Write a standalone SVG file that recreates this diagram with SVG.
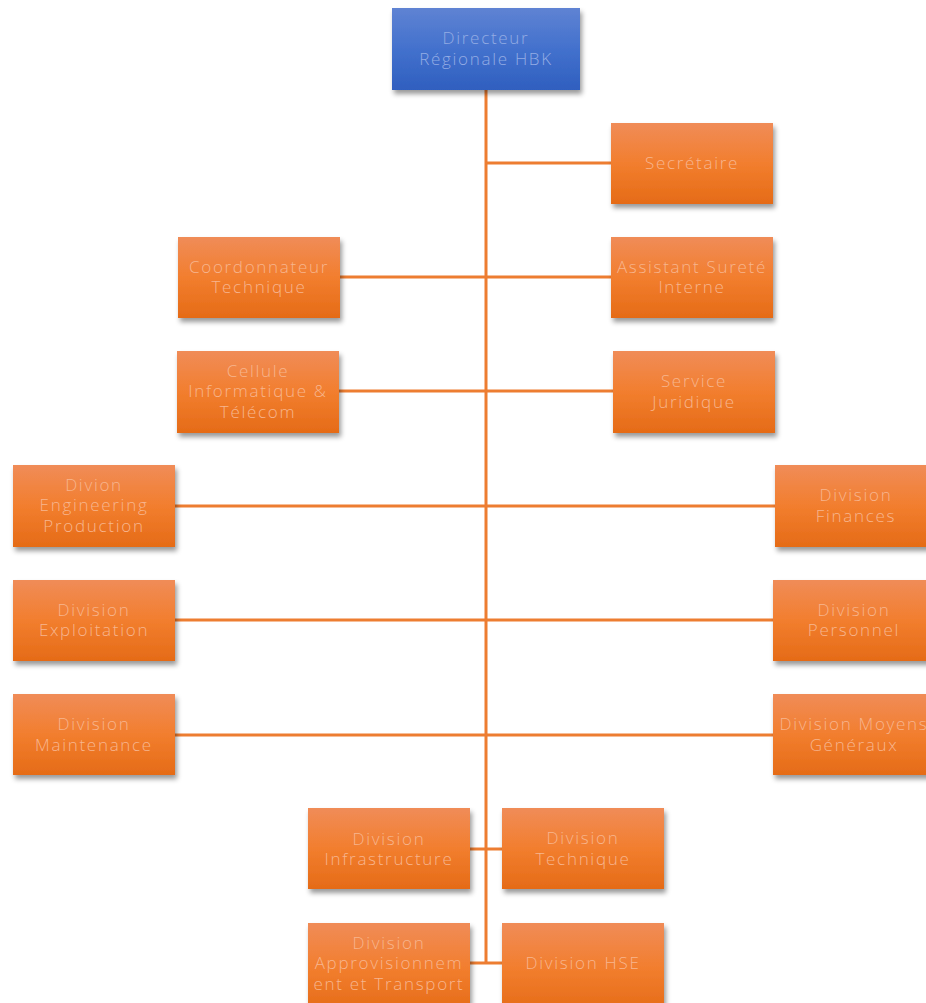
<svg xmlns="http://www.w3.org/2000/svg" width="926" height="1003" viewBox="0 0 926 1003">
<defs>
<linearGradient id="og" x1="0" y1="0" x2="0" y2="1">
<stop offset="0" stop-color="#F08C58"/><stop offset="0.5" stop-color="#F27E2E"/><stop offset="1" stop-color="#E56B17"/>
</linearGradient>
<linearGradient id="bg" x1="0" y1="0" x2="0" y2="1">
<stop offset="0" stop-color="#5F83D3"/><stop offset="0.5" stop-color="#4371CD"/><stop offset="1" stop-color="#2F5FBF"/>
</linearGradient>
<filter id="sh" x="-10%" y="-10%" width="130%" height="140%">
<feDropShadow dx="2" dy="4" stdDeviation="2.5" flood-color="#000" flood-opacity="0.4"/>
</filter>
</defs>
<style>
.o{fill:url(#og);filter:url(#sh)}
.b{fill:url(#bg);filter:url(#sh)}
text{font-family:"Open Sans","Liberation Sans",sans-serif;font-size:17px;font-weight:300;letter-spacing:1.7px;fill:#F7B58E;text-anchor:middle}
.bt{fill:#94ACE4}
.c{stroke:#ED7D31;stroke-width:3;fill:none}
</style>
<rect width="926" height="1003" fill="#fff"/>
<g id="connectors">
<line class="c" x1="486" y1="90" x2="486" y2="964"/>
<line class="c" x1="486" y1="163" x2="611" y2="163"/>
<line class="c" x1="340" y1="277" x2="611" y2="277"/>
<line class="c" x1="339" y1="391" x2="613" y2="391"/>
<line class="c" x1="175" y1="506" x2="775" y2="506"/>
<line class="c" x1="175" y1="620" x2="773" y2="620"/>
<line class="c" x1="175" y1="735" x2="773" y2="735"/>
<line class="c" x1="470" y1="849" x2="502" y2="849"/>
<line class="c" x1="470" y1="963" x2="502" y2="963"/>
</g>
<g id="directeur"><rect class="b" x="392" y="8" width="188" height="82"/><text class="bt" x="486" y="44">Directeur</text><text class="bt" x="486" y="65">Régionale HBK</text></g>
<g id="secretaire"><rect class="o" x="611" y="123" width="162" height="81"/><text x="692" y="169">Secrétaire</text></g>
<g id="coordonnateur"><rect class="o" x="178" y="237" width="162" height="81"/><text x="259" y="273">Coordonnateur</text><text x="259" y="293">Technique</text></g>
<g id="assistant"><rect class="o" x="611" y="237" width="162" height="81"/><text x="692" y="273">Assistant Sureté</text><text x="692" y="293">Interne</text></g>
<g id="cellule"><rect class="o" x="177" y="351" width="162" height="82"/><text x="258" y="377">Cellule</text><text x="258" y="397">Informatique &amp;</text><text x="258" y="418">Télécom</text></g>
<g id="juridique"><rect class="o" x="613" y="351" width="162" height="82"/><text x="694" y="387">Service</text><text x="694" y="408">Juridique</text></g>
<g id="engineering"><rect class="o" x="13" y="465" width="162" height="82"/><text x="94" y="491">Divion</text><text x="94" y="511">Engineering</text><text x="94" y="532">Production</text></g>
<g id="finances"><rect class="o" x="775" y="465" width="162" height="82"/><text x="856" y="501">Division</text><text x="856" y="522">Finances</text></g>
<g id="exploitation"><rect class="o" x="13" y="580" width="162" height="81"/><text x="94" y="616">Division</text><text x="94" y="636">Exploitation</text></g>
<g id="personnel"><rect class="o" x="773" y="580" width="162" height="81"/><text x="854" y="616">Division</text><text x="854" y="636">Personnel</text></g>
<g id="maintenance"><rect class="o" x="13" y="694" width="162" height="81"/><text x="94" y="730">Division</text><text x="94" y="751">Maintenance</text></g>
<g id="moyens"><rect class="o" x="773" y="694" width="162" height="81"/><text x="854" y="730">Division Moyens</text><text x="854" y="751">Généraux</text></g>
<g id="infrastructure"><rect class="o" x="308" y="808" width="162" height="81"/><text x="389" y="845">Division</text><text x="389" y="865">Infrastructure</text></g>
<g id="technique"><rect class="o" x="502" y="808" width="162" height="81"/><text x="583" y="844">Division</text><text x="583" y="865">Technique</text></g>
<g id="approvisionnement"><rect class="o" x="308" y="923" width="162" height="90"/><text x="389" y="949">Division</text><text x="389" y="969">Approvisionnem</text><text x="389" y="990">ent et Transport</text></g>
<g id="hse"><rect class="o" x="502" y="923" width="162" height="90"/><text x="583" y="969">Division HSE</text></g>
</svg>
